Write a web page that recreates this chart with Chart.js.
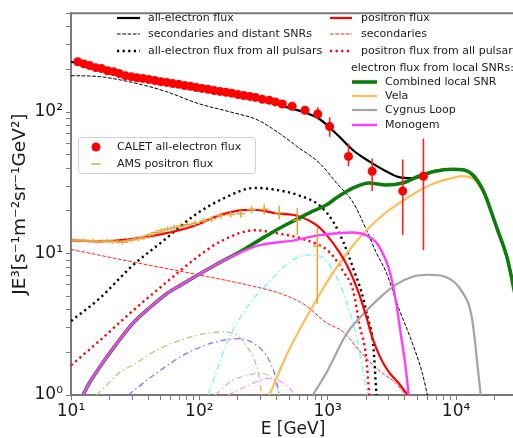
<!DOCTYPE html>
<html>
<head>
<meta charset="utf-8">
<script src="https://cdn.jsdelivr.net/npm/chart.js@4"></script>
<style>
  html, body { margin: 0; padding: 0; background: #fff; }
  #wrap { width: 513px; height: 438px; overflow: hidden; }
</style>
</head>
<body>
<div id="wrap"><canvas id="fluxChart" width="521" height="438"></canvas></div>
<script>
// CALET all-electron flux (E in GeV, E^3 J)
const calE = [11.3,12.6,14.0,15.6,17.3,19.3,21.4,23.8,26.5,29.5,32.7,36.4,40.5,45.1,50.1,55.7,62.0,68.9,76.7,85.3,94.8,105,117,130,145,161,179,200,222,247,274,310,351,391,443,528,665,837,1036,1452,2220,3843,5571];
const calF = [227,219,213,206,203,196,193,187,181,178,175,173,170,167,164,162,159,157,154,152,149,147,145,142,140,138,136,133,131,129,127,123,121,118,114,110,103,97,79,48.6,38.2,27.7,35.2];
const calErrLo = [6,6,6,6,6,6,5,5,5,5,5,5,5,5,5,5,5,5,5,4,4,4,4,4,4,4,4,4,4,4,4,4,4,4,4,6,6,8,12,7.2,10.5,14.2,24.6];
const calErrHi = [6,6,6,6,6,6,5,5,5,5,5,5,5,5,5,5,5,5,5,4,4,4,4,4,4,4,4,4,4,4,4,4,4,4,4,6,7,11,13,11.4,8.8,18.6,29.6];

// AMS positron flux
const amsE = [10.5,11.5,12.5,13.6,14.8,16.1,17.5,19.1,20.9,22.9,25.1,27.6,30.4,33.5,37.0,41.0,45.5,50.5,56.5,63.5,71.5,81.0,93.0,108,125,147,175,210,255,320,420,580,830];
const amsF = [12.4,12.3,12.4,12.2,12.3,12.1,12.2,12.3,12.1,12.2,12.0,12.3,12.5,12.7,13.0,13.5,14.0,14.5,14.9,15.3,15.6,16.0,16.4,17.0,17.6,18.6,18.9,19.1,20.5,20.6,19.4,17.2,11.3];
const amsErrLo = [0.4,0.4,0.4,0.4,0.4,0.4,0.4,0.4,0.4,0.4,0.4,0.4,0.4,0.5,0.5,0.5,0.5,0.6,0.6,0.6,0.7,0.7,0.8,0.8,0.9,1.0,1.0,1.1,1.3,1.7,2.0,3.7,6.9];
const amsErrHi = [0.4,0.4,0.4,0.4,0.4,0.4,0.4,0.4,0.4,0.4,0.4,0.4,0.4,0.5,0.5,0.5,0.5,0.6,0.6,0.6,0.7,0.7,0.8,0.8,0.9,1.0,1.0,1.1,1.3,1.7,2.4,3.9,4.0];

// model curves
const allE = [10,16.7,28.4,51,98,200,358,484,653,868,1172,1585,2104,2844,3580,4590,5470,6890,9300,11700,14000,16700,18900,21000,25100,29000];
const allF = [227,203,181,164,149,133,119,108,100,89,70,53.5,44.8,38.2,34.7,34.1,35.2,38.4,39.6,39.0,35.0,26.5,19.5,14.8,9.2,5];

const secE = [10,16.7,30,54.7,98,176,284,427,578,868,1172,1585,1995,2383,2844,3580,4590,5470,5980];
const secF = [181,178,162,140,115,100,88,70,57,43.4,31.5,22.8,14.8,10.2,7.43,4.1,2.3,1.42,1];

const pulE = [10,16.7,30,52.9,93,147,270,405,609,868,1112,1327,1585,1827,2066,2258,2400];
const pulF = [3.33,4.82,8.18,12.4,18.8,24,29.1,28.1,25.6,21.8,16.6,12.0,7.8,5.4,3.44,2.3,1.0];

const posE = [10,16.7,28.4,51,93,140,200,270,405,578,823,982,1236,1400,1585,1780,1995,2240,2600,3000,3580,4200];
const posF = [12.4,12.2,12.6,13.7,15.8,18.5,20.1,20.4,19.2,18.5,15.8,13.5,10.2,8.4,6.6,5.0,3.6,2.5,1.8,1.45,1.21,1.0];

const posSecE = [10,30,98,270,427,653,982,1327,1762,2512,3400,4050];
const posSecF = [10.7,8.73,7.08,5.84,5.22,4.38,3.23,2.79,2.06,1.49,1.21,1.0];

const posPulE = [10,16.7,30,54.7,93,147,270,405,653,1036,1327,1585,1762,1995,2104];
const posPulF = [1.62,2.42,3.91,6.2,9.2,12.2,14.6,13.9,12.6,10.2,7.43,5.4,3.18,1.84,1];

const snrE = [12.4,14.0,16.7,22.6,30,40.5,54.7,72.7,98,133,200,300,405,547,727,982,1172,1585,2104,2844,3843,5100,6890,9300,11700,14000,16700,18900,21000,25100,29000];
const snrF = [1.0,1.23,1.57,2.3,3.18,4.1,5.14,6.03,7.08,8.3,10.1,12.6,14.8,17.1,19.5,22.1,24.8,29.1,31.5,30.5,31.5,35.2,38.2,39.4,38.8,34.6,26.5,19.5,14.8,9.2,5];

const velaE = [352,484,780,1112,1585,2104,2844,3843,5100,6890,9300,11100,14000,16700,18900,21000,25100,29000];
const velaF = [1,1.96,4.38,7.43,11.5,15.3,19.5,23.6,27.7,31.5,34.1,35.2,33,26,19.2,14.6,9.1,5];

const cygE = [767,982,1400,1860,2512,3400,4590,6100,8220,11100,13300,14760,15560];
const cygF = [1,1.45,2.7,3.67,4.82,6.03,6.86,7.08,6.86,5.4,3.5,1.57,1];

const monoE = [12.4,14.0,16.7,22.6,30,40.5,54.7,72.7,98,133,200,300,547,868,1585,1995,2383,2700,3000,3400,3710,4050,4270];
const monoF = [1.0,1.23,1.57,2.3,3.18,4.1,5.14,6.03,7.08,8.3,10.0,11.5,12.4,13.5,14.1,13.5,12.0,9.9,7.8,4.6,2.7,1.57,1];

// single pulsar contributions (dash-dot)
const psrAE = [15.8,25.1,30,45.9,82.2,147,189,238,270,294,305];
const psrAF = [1,1.49,1.62,2.06,2.54,2.79,2.7,2.16,1.75,1.31,1];
const psrBE = [27.9,45.9,82.2,147,200,270,340,385,420];
const psrBF = [1,1.42,2.0,2.42,2.5,2.3,1.84,1.42,1];
const psrCE = [117,167,238,340,484,689,900,1112,1400,1762,2030];
const psrCF = [1,2.42,4.24,6.13,8.45,9.77,9.46,7.43,4.59,2.06,1];
const psrDE = [133,176,238,294,352,391,420];
const psrDF = [1,1.25,1.38,1.42,1.36,1.21,1];
const psrEE = [167,238,340,427,501,557];
const psrEF = [1,1.16,1.31,1.25,1.12,1];

const xTickVals = [10,100,1000,10000];
const xTickLabels = ['10¹','10²','10³','10⁴'];
const yTickVals = [1,10,100];
const yTickLabels = ['10⁰','10¹','10²'];

const FONT = '"DejaVu Sans", sans-serif';
const pts = (es, fs) => es.map((e, i) => ({x: e, y: fs[i]}));
const bars = (es, fs, lo, hi) => es.flatMap((e, i) => [{x: e, y: fs[i] - lo[i]}, {x: e, y: fs[i] + hi[i]}, {x: e, y: null}]);

function curve(label, es, fs, color, width, dash) {
  return {
    label: label, data: pts(es, fs), borderColor: color, backgroundColor: color,
    borderWidth: width, borderDash: dash || [], pointRadius: 0, fill: false,
    cubicInterpolationMode: 'monotone'
  };
}

const DOT = [2.2, 3.4];
const DASH = [3.7, 1.6];
const DASHDOT = [6, 3, 1.5, 3];

const datasets = [
  { label: 'CALET all-electron flux', data: pts(calE, calF), showLine: false,
    pointRadius: 4.5, pointBackgroundColor: '#ff0000', pointBorderWidth: 0, borderColor: '#ff0000' },
  { label: 'calet err', data: bars(calE, calF, calErrLo, calErrHi), borderColor: '#ff2222', borderWidth: 1.6,
    pointRadius: 0, spanGaps: false },
  { label: 'AMS positron flux', data: pts(amsE, amsF), showLine: false, pointStyle: 'line',
    pointRadius: 4.5, borderColor: '#e4a43c', pointBorderColor: '#e4a43c', pointBorderWidth: 1.5 },
  { label: 'ams err', data: bars(amsE, amsF, amsErrLo, amsErrHi), borderColor: '#e4a43c', borderWidth: 1.5,
    pointRadius: 0, spanGaps: false },
  curve('Monogem', monoE, monoF, '#ff3cff', 2.4),
  curve('Combined local SNR', snrE, snrF, '#0a7d0a', 3.6),
  curve('all-electron flux', allE, allF, '#000000', 2.2),
  curve('positron flux', posE, posF, '#ff0000', 2.2),
  curve('Vela', velaE, velaF, '#ffbd55', 2.2),
  curve('Cygnus Loop', cygE, cygF, '#a3a3a3', 2.2),
  curve('all-electron flux from all pulsars', pulE, pulF, '#000000', 2.4, DOT),
  curve('positron flux from all pulsars', posPulE, posPulF, '#ff0000', 2.4, DOT),
  curve('secondaries and distant SNRs', secE, secF, '#000000', 1, DASH),
  curve('secondaries', posSecE, posSecF, '#ff2020', 1, DASH),
  curve('psr a', psrAE, psrAF, '#c4c27a', 1.3, DASHDOT),
  curve('psr b', psrBE, psrBF, '#7a7aff', 1.3, DASHDOT),
  curve('psr c', psrCE, psrCF, '#77f2ff', 1.3, DASHDOT),
  curve('psr d', psrDE, psrDF, '#c0c0c0', 1.3, DASHDOT),
  curve('psr e', psrEE, psrEF, '#ff90ff', 1.3, DASHDOT)
];

function logTicks(scale) {
  const ticks = [];
  for (let d = 1; d <= 1e5; d *= 10) {
    for (let k = 1; k <= 9; k++) {
      const v = k * d;
      if (v >= scale.min * 0.9999 && v <= scale.max) ticks.push({value: v});
    }
  }
  scale.ticks = ticks;
}
const labelFor = (vals, labels) => v => {
  const i = vals.findIndex(t => Math.abs(t - v) / t < 1e-6);
  return i >= 0 ? labels[i] : '';
};

const framePlugin = {
  id: 'frame',
  afterDraw(chart) {
    const {ctx, chartArea} = chart;
    ctx.save();
    ctx.strokeStyle = '#7a7a7a';
    ctx.lineWidth = 2;
    ctx.beginPath();
    ctx.moveTo(chartArea.left, chartArea.top);
    ctx.lineTo(chartArea.right, chartArea.top);
    ctx.lineTo(chartArea.right, chartArea.bottom);
    ctx.stroke();
    ctx.restore();
  }
};

const legendPlugin = {
  id: 'fluxLegend',
  afterDraw(chart) {
    const ctx = chart.ctx;
    const ds = chart.data.datasets;
    const find = l => ds.find(d => d.label === l);
    ctx.save();
    ctx.font = '11px ' + FONT;
    ctx.textBaseline = 'middle';
    function row(label, x0, x1, tx, y) {
      const d = find(label);
      ctx.beginPath();
      ctx.setLineDash(d.borderDash || []);
      ctx.lineWidth = d.borderWidth;
      ctx.strokeStyle = d.borderColor;
      ctx.moveTo(x0, y);
      ctx.lineTo(x1, y);
      ctx.stroke();
      ctx.setLineDash([]);
      ctx.fillStyle = '#1a1a1a';
      ctx.fillText(label, tx, y);
    }
    row('all-electron flux', 117, 140, 148, 18);
    row('secondaries and distant SNRs', 117, 140, 148, 34);
    row('all-electron flux from all pulsars', 117, 140, 148, 51);
    row('positron flux', 330, 352, 361, 18);
    row('secondaries', 330, 352, 361, 34);
    row('positron flux from all pulsars', 330, 352, 361, 51);
    ctx.fillStyle = '#1a1a1a';
    ctx.fillText('electron flux from local SNRs:', 351, 68);
    row('Combined local SNR', 352, 377, 385, 82);
    row('Vela', 352, 377, 385, 96);
    row('Cygnus Loop', 352, 377, 385, 110);
    row('Monogem', 352, 377, 385, 125);

    // boxed data legend
    ctx.beginPath();
    ctx.roundRect(78.5, 137.5, 177, 36, 3);
    ctx.fillStyle = 'rgba(255,255,255,0.85)';
    ctx.fill();
    ctx.lineWidth = 1;
    ctx.strokeStyle = '#d0d0d0';
    ctx.stroke();
    ctx.beginPath();
    ctx.arc(96, 147, 4.5, 0, Math.PI * 2);
    ctx.fillStyle = '#ff0000';
    ctx.fill();
    ctx.beginPath();
    ctx.moveTo(91.5, 164);
    ctx.lineTo(100.5, 164);
    ctx.strokeStyle = '#e4a43c';
    ctx.lineWidth = 1.5;
    ctx.stroke();
    ctx.fillStyle = '#1a1a1a';
    ctx.fillText('CALET all-electron flux', 117, 147);
    ctx.fillText('AMS positron flux', 117, 164);
    ctx.restore();
  }
};

const axisGrid = { display: true, drawOnChartArea: false, drawTicks: true, tickLength: 5,
  color: '#7a7a7a', tickColor: '#7a7a7a', tickWidth: 1 };

new Chart(document.getElementById('fluxChart').getContext('2d'), {
  type: 'line',
  data: { datasets: datasets },
  plugins: [framePlugin, legendPlugin],
  options: {
    responsive: false,
    animation: false,
    layout: { padding: { top: 8, left: 0, right: 0, bottom: 0 } },
    plugins: { legend: { display: false }, tooltip: { enabled: false } },
    scales: {
      x: {
        type: 'logarithmic', position: 'bottom', min: 10, max: 28800,
        afterBuildTicks: logTicks,
        afterFit: s => { s.height = 43; },
        grid: axisGrid,
        border: { color: '#7a7a7a', width: 2 },
        ticks: { autoSkip: false, maxRotation: 0, padding: 1, color: '#1a1a1a',
          font: { family: FONT, size: 17 }, callback: labelFor(xTickVals, xTickLabels) },
        title: { display: true, text: 'E [GeV]', color: '#1a1a1a', padding: 0,
          font: { family: FONT, size: 17, lineHeight: 1 } }
      },
      y: {
        type: 'logarithmic', position: 'left', min: 1, max: 500,
        afterBuildTicks: logTicks,
        afterFit: s => { s.width = 71; },
        grid: axisGrid,
        border: { color: '#7a7a7a', width: 2 },
        ticks: { autoSkip: false, padding: 3, color: '#1a1a1a',
          font: { family: FONT, size: 17 }, callback: labelFor(yTickVals, yTickLabels) },
        title: { display: true, text: 'JE³[s⁻¹m⁻²sr⁻¹GeV²]', color: '#1a1a1a', padding: { top: 9, bottom: 0 },
          font: { family: FONT, size: 18.5, lineHeight: 1.2 } }
      }
    }
  }
});
</script>
</body>
</html>
